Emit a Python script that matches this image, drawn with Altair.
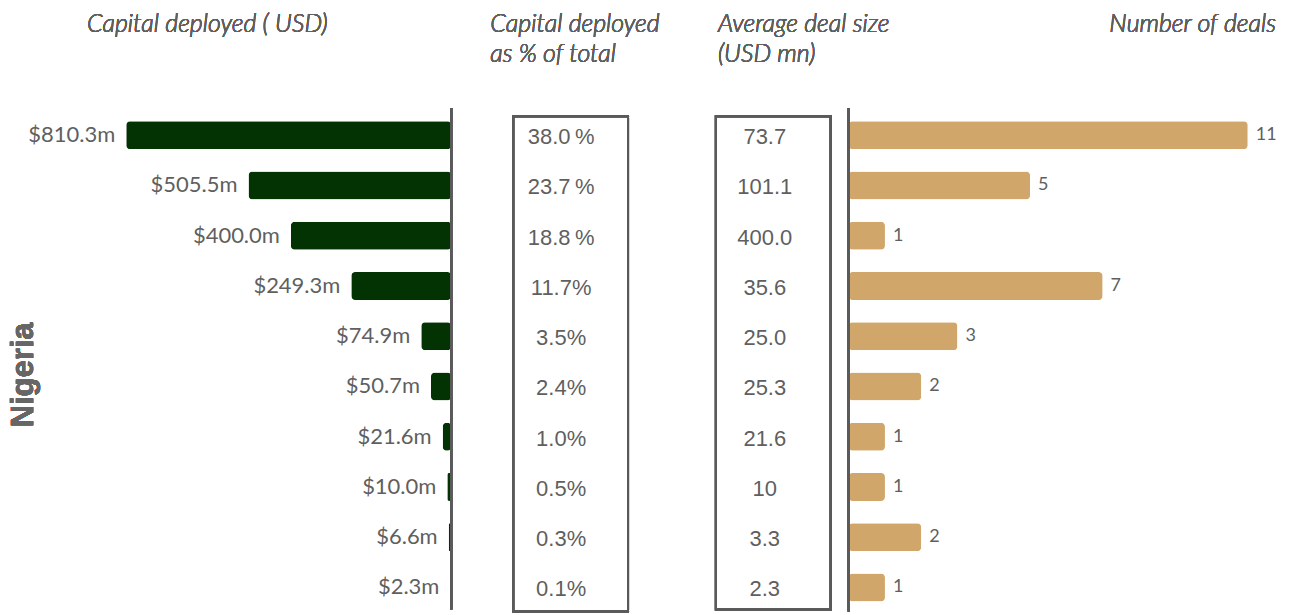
import altair as alt
import pandas as pd

rows = list(range(10))
capital = [810.3, 505.5, 400.0, 249.3, 74.9, 50.7, 21.6, 10.0, 6.6, 2.3]
capital_labels = ["$810.3m", "$505.5m", "$400.0m", "$249.3m", "$74.9m",
                  "$50.7m", "$21.6m", "$10.0m", "$6.6m", "$2.3m"]
pct_labels = ["38.0\u2009%", "23.7\u2009%", "18.8\u2009%", "11.7%", "3.5%",
              "2.4%", "1.0%", "0.5%", "0.3%", "0.1%"]
avg_labels = ["73.7", "101.1", "400.0", "35.6", "25.0",
              "25.3", "21.6", "10", "3.3", "2.3"]
deals = [11, 5, 1, 7, 3, 2, 1, 1, 2, 1]

df = pd.DataFrame({
    "row": rows,
    "capital": capital,
    "capital_label": capital_labels,
    "pct": pct_labels,
    "avg": avg_labels,
    "deals": deals,
})

GREEN = "#033203"
TAN = "#D1A66A"
GREY = "#5f5f5f"
LINE = "#5a5a5a"
H = 605

yenc = alt.Y("row:Q", scale=alt.Scale(domain=[-2.523, 9.5], reverse=True, padding=0), axis=None)
base = alt.Chart(df)

head_style = dict(font="Lato", fontStyle="italic", fontWeight=300, fontSize=25, color=GREY)

# Panel 1: capital deployed
x1 = alt.X("capital:Q", scale=alt.Scale(domain=[0, 1098.6], reverse=True, padding=0), axis=None)
p1_bars = base.mark_bar(color=GREEN, size=28, cornerRadius=4, orient="horizontal").encode(x=x1, y=yenc)
p1_labels = base.mark_text(align="right", baseline="middle", dx=-11, font="Lato",
                           fontSize=22, color=GREY).encode(x=x1, y=yenc, text="capital_label:N")
p1_rule = base.mark_rule(color=LINE, strokeWidth=2).encode(
    x=alt.datum(0), y=alt.value(100), y2=alt.value(602))
p1_head = base.mark_text(align="left", baseline="alphabetic", **head_style).encode(
    x=alt.value(77), y=alt.value(24), text=alt.value("Capital deployed ( USD)"))
p1_country = base.mark_text(align="center", baseline="middle", angle=270,
                            font="Liberation Sans", fontWeight="bold", fontSize=31,
                            color="#666666").encode(
    x=alt.value(14), y=alt.value(367), text=alt.value("Nigeria"))
panel1 = alt.layer(p1_bars, p1_labels, p1_rule, p1_head, p1_country).properties(width=442, height=H)

# Panel 2: share of total
p2_box = base.mark_rect(fillOpacity=0, stroke=LINE, strokeWidth=2).encode(
    x=alt.value(62), x2=alt.value(177), y=alt.value(108), y2=alt.value(604))
p2_text = base.mark_text(align="center", baseline="middle", dy=2, font="Liberation Sans",
                         fontSize=22, color=GREY).encode(
    x=alt.value(110), y=yenc, text="pct:N")
p2_head = base.mark_text(align="left", baseline="alphabetic", lineBreak="\n", lineHeight=30,
                         **head_style).encode(
    x=alt.value(39), y=alt.value(24), text=alt.value("Capital deployed\nas % of total"))
panel2 = alt.layer(p2_box, p2_text, p2_head).properties(width=240, height=H)

# Panel 3: average deal size
p3_box = base.mark_rect(fillOpacity=0, stroke=LINE, strokeWidth=2).encode(
    x=alt.value(25), x2=alt.value(140), y=alt.value(108), y2=alt.value(602))
p3_text = base.mark_text(align="center", baseline="middle", dy=2, font="Liberation Sans",
                         fontSize=22, color=GREY).encode(
    x=alt.value(74), y=yenc, text="avg:N")
p3_head = base.mark_text(align="left", baseline="alphabetic", lineBreak="\n", lineHeight=30,
                         **head_style).encode(
    x=alt.value(27), y=alt.value(24), text=alt.value("Average deal size\n(USD mn)"))
panel3 = alt.layer(p3_box, p3_text, p3_head).properties(width=158, height=H)

# Panel 4: number of deals
x4 = alt.X("deals:Q", scale=alt.Scale(domain=[0, 11.96], padding=0), axis=None)
p4_bars = base.mark_bar(color=TAN, size=28, cornerRadius=4, orient="horizontal").encode(x=x4, y=yenc)
p4_labels = base.mark_text(align="left", baseline="middle", dx=8, font="Lato",
                           fontSize=18, color=GREY).encode(x=x4, y=yenc, text="deals:Q")
p4_rule = base.mark_rule(color=LINE, strokeWidth=2).encode(
    x=alt.datum(0), y=alt.value(100), y2=alt.value(604))
p4_head = base.mark_text(align="right", baseline="alphabetic", **head_style).encode(
    x=alt.value(428), y=alt.value(24), text=alt.value("Number of deals"))
panel4 = alt.layer(p4_bars, p4_labels, p4_rule, p4_head).properties(width=436, height=H)

chart = alt.hconcat(panel1, panel2, panel3, panel4, spacing=0, bounds="flush").properties(
    padding=0, background="white"
).configure_view(stroke=None)

chart.save("out.html", embed_options={"renderer": "svg", "actions": False})
